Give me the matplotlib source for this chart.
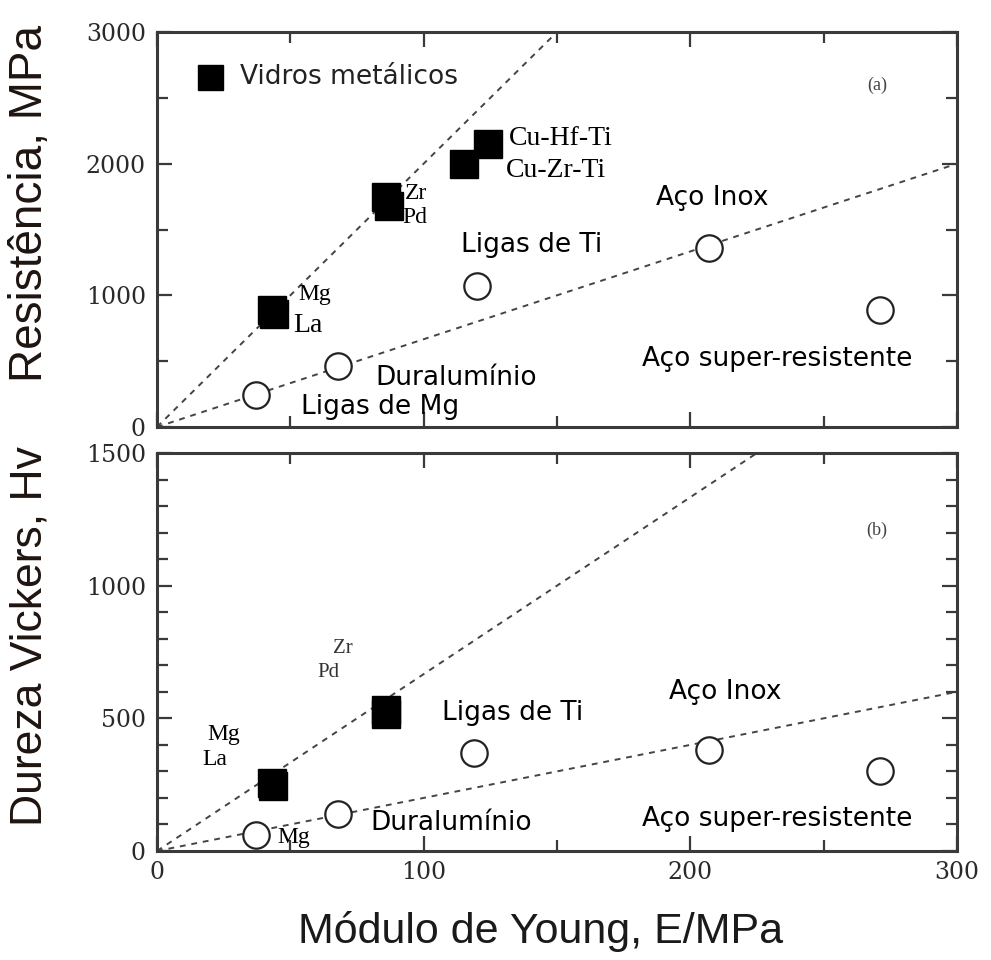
import matplotlib
matplotlib.use("Agg")
import matplotlib.pyplot as plt
from matplotlib.ticker import MultipleLocator

# ---------------- data ----------------
# (a) strength vs Young's modulus
glass_E_a = [43, 44, 86, 87, 115, 124]
glass_S_a = [890, 860, 1750, 1680, 2000, 2150]
cryst_E_a = [37, 68, 120, 207, 271]
cryst_S_a = [240, 460, 1070, 1360, 890]
line1_a_x, line1_a_y = [0, 300], [0, 6000]
line2_a_x, line2_a_y = [0, 300], [0, 2000]

# (b) Vickers hardness vs Young's modulus
glass_E_b = [43, 43.5, 86, 86]
glass_H_b = [255, 245, 530, 518]
cryst_E_b = [37, 68, 119, 207, 271]
cryst_H_b = [60, 140, 370, 380, 300]
line1_b_x, line1_b_y = [0, 300], [0, 2000]
line2_b_x, line2_b_y = [0, 300], [0, 600]

x_ticks = [0, 100, 200, 300]
y_ticks_a = [0, 1000, 2000, 3000]
y_ticks_b = [0, 500, 1000, 1500]

W, H = 991, 960
fig = plt.figure(figsize=(W / 100, H / 100), dpi=100)

def frac(l, t, r, b):
    return [l / W, 1 - b / H, (r - l) / W, (b - t) / H]

ax1 = fig.add_axes(frac(157, 32, 957, 427))
ax2 = fig.add_axes(frac(157, 453, 957, 851))

SPINE = "#3a3a3a"
LINEC = "#444444"
SANS = "DejaVu Sans"
SERIF = "Liberation Serif"
lab_fs = 19
ser_fs = 20
small_fs = 17

def style(ax, yt, ymax, yminor):
    ax.set_xlim(0, 300)
    ax.set_ylim(0, ymax)
    for s in ax.spines.values():
        s.set_linewidth(2.2)
        s.set_color(SPINE)
    ax.set_xticks(x_ticks)
    ax.set_yticks(yt)
    ax.xaxis.set_minor_locator(MultipleLocator(50))
    ax.yaxis.set_minor_locator(MultipleLocator(yminor))
    ax.tick_params(which="both", direction="in", top=True, right=True,
                   color=SPINE, width=1.6)
    ax.tick_params(which="major", length=11)
    ax.tick_params(which="minor", length=8)
    ax.tick_params(axis="y", pad=8)
    ax.tick_params(axis="x", pad=7)
    for lbl in ax.get_yticklabels() + ax.get_xticklabels():
        lbl.set_fontfamily("DejaVu Serif")
        lbl.set_fontsize(17)
        lbl.set_color("#2a2a2a")

dash = (0, (3, 3))

# ---- panel (a) ----
ax1.plot(line1_a_x, line1_a_y, ls=dash, color=LINEC, lw=1.4)
ax1.plot(line2_a_x, line2_a_y, ls=dash, color=LINEC, lw=1.4)
ax1.plot(glass_E_a, glass_S_a, ls="none", marker="s", ms=20, color="black")
ax1.plot(cryst_E_a, cryst_S_a, ls="none", marker="o", ms=19, mfc="white",
         mec="#222222", mew=1.6)
style(ax1, y_ticks_a, 3000, 500)
ax1.set_xticklabels([])
ax1.plot([20], [2660], ls="none", marker="s", ms=18, color="black")
ax1.text(31, 2660, "Vidros metálicos", fontsize=lab_fs, family=SANS,
         va="center", ha="left", color="#222")
ax1.text(270, 2595, "(a)", fontsize=13, family=SERIF, ha="center",
         va="center", color="#444")
ax1.text(132, 2190, "Cu-Hf-Ti", fontsize=ser_fs, family=SERIF, va="center")
ax1.text(131, 1950, "Cu-Zr-Ti", fontsize=ser_fs, family=SERIF, va="center")
ax1.text(93, 1775, "Zr", fontsize=small_fs, family=SERIF, va="center")
ax1.text(92, 1590, "Pd", fontsize=small_fs, family=SERIF, va="center")
ax1.text(53, 1010, "Mg", fontsize=small_fs, family=SERIF, va="center")
ax1.text(51, 770, "La", fontsize=ser_fs, family=SERIF, va="center")
ax1.text(114, 1380, "Ligas de Ti", fontsize=lab_fs, family=SANS, va="center")
ax1.text(187, 1740, "Aço Inox", fontsize=lab_fs, family=SANS, va="center")
ax1.text(182, 520, "Aço super-resistente", fontsize=lab_fs, family=SANS,
         va="center")
ax1.text(82, 370, "Duralumínio", fontsize=lab_fs, family=SANS, va="center")
ax1.text(54, 150, "Ligas de Mg", fontsize=lab_fs, family=SANS, va="center")

# ---- panel (b) ----
ax2.plot(line1_b_x, line1_b_y, ls=dash, color=LINEC, lw=1.4)
ax2.plot(line2_b_x, line2_b_y, ls=dash, color=LINEC, lw=1.4)
ax2.plot(glass_E_b, glass_H_b, ls="none", marker="s", ms=20, color="black")
ax2.plot(cryst_E_b, cryst_H_b, ls="none", marker="o", ms=19, mfc="white",
         mec="#222222", mew=1.6)
style(ax2, y_ticks_b, 1500, 100)
ax2.text(270, 1210, "(b)", fontsize=13, family=SERIF, ha="center",
         va="center", color="#444")
ax2.text(19, 440, "Mg", fontsize=small_fs, family=SERIF, va="center")
ax2.text(17, 345, "La", fontsize=small_fs, family=SERIF, va="center")
ax2.text(66, 765, "Zr", fontsize=15, family=SERIF, va="center", color="#333")
ax2.text(60, 672, "Pd", fontsize=15, family=SERIF, va="center", color="#333")
ax2.text(45, 50, "Mg", fontsize=small_fs, family=SERIF, va="center")
ax2.text(107, 520, "Ligas de Ti", fontsize=lab_fs, family=SANS, va="center")
ax2.text(192, 600, "Aço Inox", fontsize=lab_fs, family=SANS, va="center")
ax2.text(182, 122, "Aço super-resistente", fontsize=lab_fs, family=SANS,
         va="center")
ax2.text(80, 106, "Duralumínio", fontsize=lab_fs, family=SANS, va="center")

# ---- axis labels ----
LBL = "Liberation Sans"
fig.text(30 / W, 1 - 204 / H, "Resistência, MPa", rotation=90, fontsize=33,
         family=LBL, ha="center", va="center", color="#1e1410")
fig.text(30 / W, 1 - 636 / H, "Dureza Vickers, Hv", rotation=90, fontsize=32,
         family=LBL, ha="center", va="center", color="#1e1410")
fig.text(541 / W, 1 - 932 / H, "Módulo de Young, E/MPa", fontsize=31,
         family=LBL, ha="center", va="center", color="#1a1a1a")

fig.savefig("out.png", dpi=100)
